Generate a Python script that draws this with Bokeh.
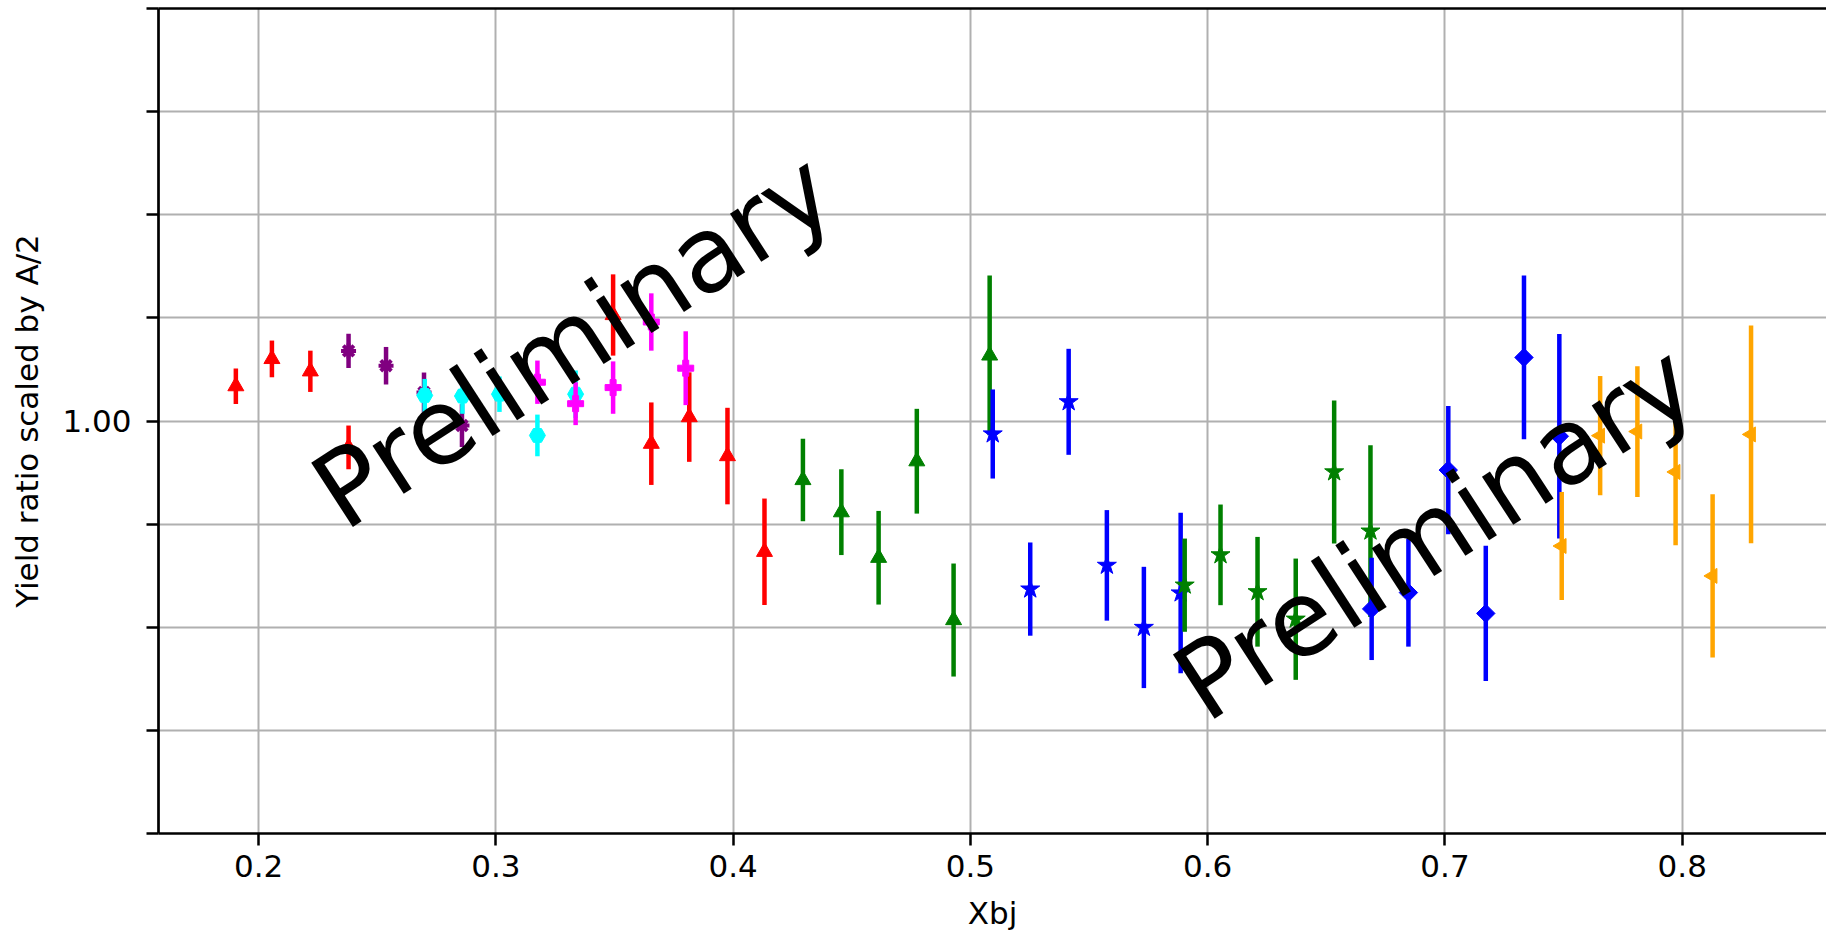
import numpy as np
from bokeh.plotting import figure
from bokeh.models import ColumnDataSource, FixedTicker, LinearAxis, Range1d
from bokeh.core.properties import value
from bokeh.embed import file_html
from bokeh.resources import INLINE

# ---------------- data ----------------
red_x = [0.1904, 0.2056, 0.2218, 0.2379, 0.3494, 0.3655, 0.3815, 0.3976, 0.4132]
red_y = [1.0169, 1.0301, 1.0241, 0.9872, 1.0514, 0.9890, 1.0019, 0.9830, 0.9366]
red_err = [0.0086, 0.0089, 0.0100, 0.0106, 0.0197, 0.0200, 0.0217, 0.0234, 0.0258]

purple_x = [0.2379, 0.2537, 0.2697, 0.2857]
purple_y = [1.0340, 1.0268, 1.0138, 0.9978]
purple_err = [0.0083, 0.0091, 0.0097, 0.0104]

cyan_x = [0.2700, 0.2859, 0.3015, 0.3175, 0.3336]
cyan_y = [1.0124, 1.0121, 1.0130, 0.9930, 1.0130]
cyan_err = [0.0080, 0.0086, 0.0086, 0.0101, 0.0115]

magenta_x = [0.3175, 0.3336, 0.3494, 0.3655, 0.3800]
magenta_y = [1.0188, 1.0084, 1.0162, 1.0480, 1.0256]
magenta_err = [0.0105, 0.0104, 0.0127, 0.0139, 0.0179]

green_tri_x = [0.4294, 0.4456, 0.4613, 0.4774, 0.4929, 0.5081]
green_tri_y = [0.9714, 0.9558, 0.9337, 0.9805, 0.9035, 1.0318]
green_tri_err = [0.0200, 0.0208, 0.0227, 0.0254, 0.0274, 0.0387]

blue_star_x = [0.5094, 0.5252, 0.5414, 0.5575, 0.5731, 0.5886]
blue_star_y = [0.9937, 0.9185, 1.0093, 0.9300, 0.8999, 0.9166]
blue_star_err = [0.0216, 0.0226, 0.0257, 0.0268, 0.0294, 0.0389]

green_star_x = [0.5903, 0.6054, 0.6210, 0.6371, 0.6533, 0.6686]
green_star_y = [0.9204, 0.9351, 0.9172, 0.9039, 0.9753, 0.9466]
green_star_err = [0.0226, 0.0244, 0.0266, 0.0294, 0.0347, 0.0416]

blue_dia_x = [0.6691, 0.6846, 0.7014, 0.7172, 0.7333, 0.7482]
blue_dia_y = [0.9089, 0.9168, 0.9762, 0.9067, 1.0308, 0.9926]
blue_dia_err = [0.0248, 0.0262, 0.0311, 0.0328, 0.0397, 0.0496]

orange_x = [0.7492, 0.7654, 0.7811, 0.7972, 0.8128, 0.8290]
orange_y = [0.9394, 0.9929, 0.9949, 0.9753, 0.9249, 0.9935]
orange_err = [0.0262, 0.0289, 0.0317, 0.0355, 0.0396, 0.0528]

x_ticks = [0.2, 0.3, 0.4, 0.5, 0.6, 0.7, 0.8]
y_ticks = [0.80, 0.85, 0.90, 0.95, 1.00, 1.05, 1.10, 1.15, 1.20]
y_tick_labels = {1.00: "1.00"}

watermark_text = ["Preliminary", "Preliminary"]
watermark_x = [0.2278, 0.5910]
watermark_y = [0.9606, 0.8676]

x_label = "Xbj"
y_label = "Yield ratio scaled by A/2"

# ---------------- figure ----------------
FONT = "DejaVu Sans"
p = figure(width=1826, height=933,
           x_range=Range1d(0.1578, 0.8608), y_range=Range1d(0.80, 1.20),
           output_backend="svg", toolbar_location=None,
           min_border_left=158, min_border_right=0, min_border_top=8, min_border_bottom=98,
           x_axis_label=x_label, y_axis_label=y_label)
p.outline_line_color = None
p.background_fill_color = "white"
p.border_fill_color = "white"

# axes
p.xaxis.ticker = FixedTicker(ticks=x_ticks)
p.yaxis.ticker = FixedTicker(ticks=y_ticks)
p.yaxis.major_label_overrides = {t: y_tick_labels.get(t, "") for t in y_ticks}
for ax in (p.xaxis[0], p.yaxis[0]):
    ax.axis_line_color = "black"
    ax.axis_line_width = 2.7
    ax.major_tick_line_color = "black"
    ax.major_tick_line_width = 2.5
    ax.major_tick_in = 0
    ax.major_tick_out = 12
    ax.minor_tick_line_color = None
    ax.major_label_text_font = FONT
    ax.major_label_text_font_size = "31px"
    ax.major_label_text_color = "black"
    ax.axis_label_text_font = FONT
    ax.axis_label_text_font_size = "31px"
    ax.axis_label_text_font_style = "normal"
    ax.axis_label_text_color = "black"
p.yaxis.major_label_standoff = 15
p.yaxis.axis_label_standoff = 14
p.xaxis.major_label_standoff = 9
p.xaxis.axis_label_standoff = 15

# top spine
top = LinearAxis(ticker=FixedTicker(ticks=[]), axis_line_width=2.7, axis_line_color="black",
                 major_tick_line_color=None, minor_tick_line_color=None,
                 major_label_text_font_size="0px")
p.add_layout(top, "above")

# grid
p.xgrid.ticker = FixedTicker(ticks=x_ticks)
p.ygrid.ticker = FixedTicker(ticks=y_ticks)
p.grid.grid_line_color = "#b0b0b0"
p.grid.grid_line_width = 2

# ---------------- series ----------------
series = [
    (red_x, red_y, red_err, "red", "triangle", 16, 0),
    (purple_x, purple_y, purple_err, "purple", "asterisk", 15, 0),
    (cyan_x, cyan_y, cyan_err, "cyan", "hex", 16, 0),
    (magenta_x, magenta_y, magenta_err, "magenta", "plus", 16, 0),
    (green_tri_x, green_tri_y, green_tri_err, "green", "triangle", 16, 0),
    (blue_star_x, blue_star_y, blue_star_err, "blue", "star", 20, 0),
    (green_star_x, green_star_y, green_star_err, "green", "star", 20, 0),
    (blue_dia_x, blue_dia_y, blue_dia_err, "blue", "square", 13, 45),
    (orange_x, orange_y, orange_err, "orange", "triangle", 15, 90),
]

for xs, ys, es, color, marker, size, ang in series:
    xs = np.array(xs); ys = np.array(ys); es = np.array(es)
    src = ColumnDataSource(dict(x=xs, y=ys, lo=ys - es, hi=ys + es))
    p.segment(x0="x", y0="lo", x1="x", y1="hi", source=src, line_color=color, line_width=4.5)
    if marker == "asterisk":
        p.scatter(x="x", y="y", source=src, marker=marker, size=size,
                  line_color=color, line_width=4)
    else:
        p.scatter(x="x", y="y", source=src, marker=marker, size=size, angle=ang,
                  angle_units="deg", fill_color=color, line_color=color, line_width=1)

# watermark
wsrc = ColumnDataSource(dict(x=watermark_x, y=watermark_y, t=watermark_text))
p.text(x="x", y="y", text="t", source=wsrc, angle=33, angle_units="deg",
       text_font=value(FONT), text_font_size="105px", text_color="black",
       text_align="left", text_baseline="alphabetic")

open("out.html", "w").write(file_html(p, INLINE))
